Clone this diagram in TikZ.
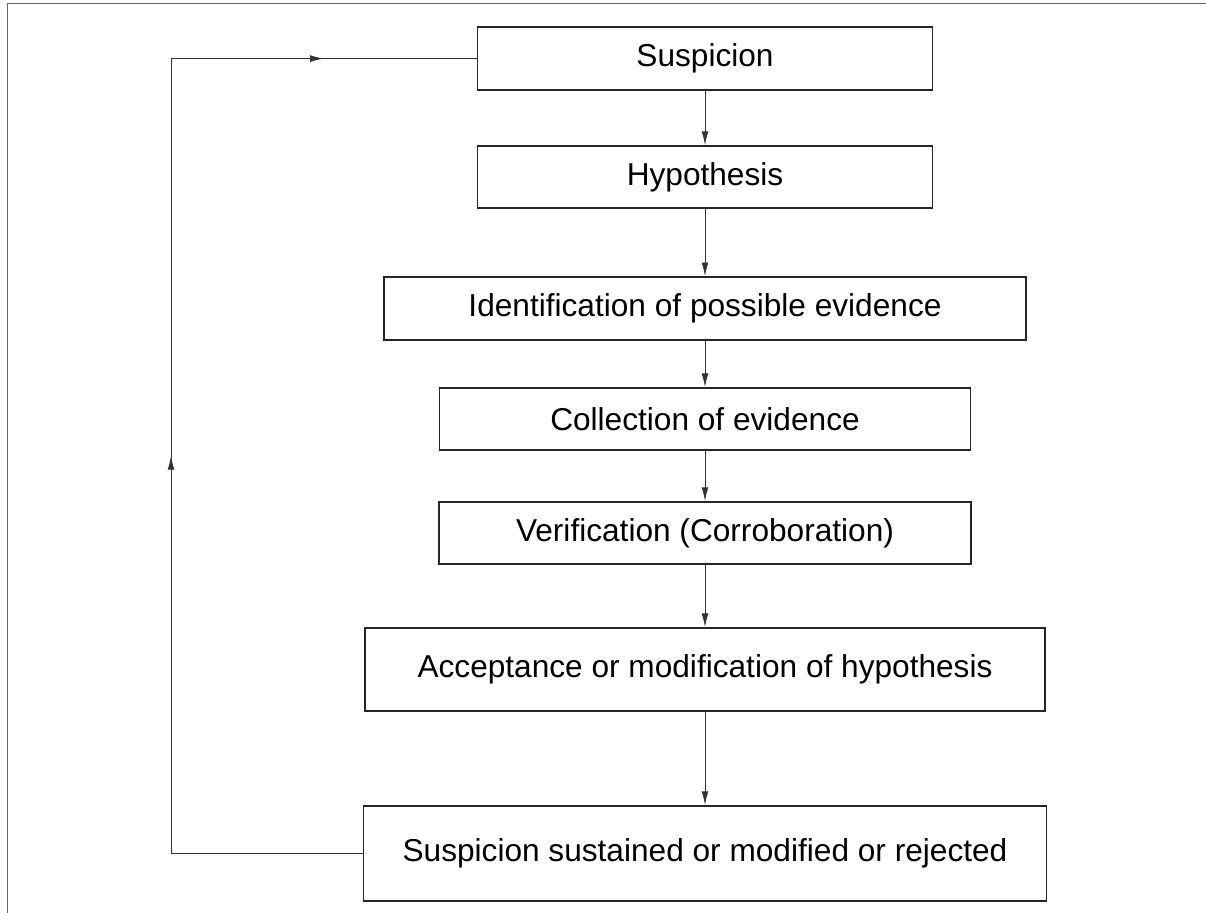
\documentclass[tikz,border=0pt]{standalone}
\usepackage{fontspec}
\setmainfont{Liberation Sans}
\usetikzlibrary{arrows.meta,decorations.markings}

\begin{document}
\begin{tikzpicture}[
        auto,
        semithick % line style
    ]
    \tikzstyle{process box}=[
        draw = black!85,
        line width = 1.4pt,
        fill = white,
        rectangle,
        inner sep = 0pt,
        minimum width = 11.375cm,
        minimum height = 1.575cm,
        font = \fontsize{22.5}{27}\selectfont
    ]

    \tikzstyle{flow}=[
        draw = black!80,
        line width = 0.6pt,
        -{Latex[length=3.4mm,width=1.7mm]}
    ]

    \tikzstyle{loop}=[
        draw = black!80,
        line width = 0.6pt,
        postaction = {decorate},
        decoration = {markings,
            mark = at position 0.5 with {\arrow{Latex[length=3.4mm,width=1.7mm]}}}
    ]

    \useasboundingbox (0, 0) rectangle (30.15, 22.825);
    \draw[black!60, line width=0.6pt] (0.175, 0) -- (0.175, 22.75) -- (30.15, 22.75);

	\node[process box] (susp) at (17.625, 21.36) {Suspicion};
	\node[process box, minimum height=1.55cm] (hyp) at (17.625, 18.4) {Hypothesis};
	\node[process box, minimum width=16.05cm] (ident) at (17.625, 15.11) {Identification of possible evidence};
	\node[process box, minimum width=13.275cm, minimum height=1.55cm] (coll) at (17.625, 12.35) {Collection of evidence};
	\node[process box, minimum width=13.3cm, minimum height=1.55cm] (verif) at (17.625, 9.5) {Verification (Corroboration)};
	\node[process box, minimum width=17cm, minimum height=2.075cm] (accept) at (17.625, 6.0875) {Acceptance or modification of hypothesis};
	\node[process box, minimum width=17.075cm, minimum height=2.375cm] (outcome) at (17.625, 1.4875) {Suspicion sustained or modified or rejected};

	\coordinate (lowleft) at (4.275, 0 |- outcome.west);
	\coordinate (upleft) at (4.275, 0 |- susp.west);

	\path[flow] (susp) -- (hyp);
	\path[flow] (hyp) -- (ident);
	\path[flow] (ident) -- (coll);
	\path[flow] (coll) -- (verif);
	\path[flow] (verif) -- (accept);
	\path[flow] (accept) -- (outcome);

	\draw[black!80, line width=0.6pt] (outcome.west) -- (lowleft);
	\path[loop] (lowleft) -- (upleft);
	\path[loop] (upleft) -- (susp.west);

	\end{tikzpicture}
\end{document}
